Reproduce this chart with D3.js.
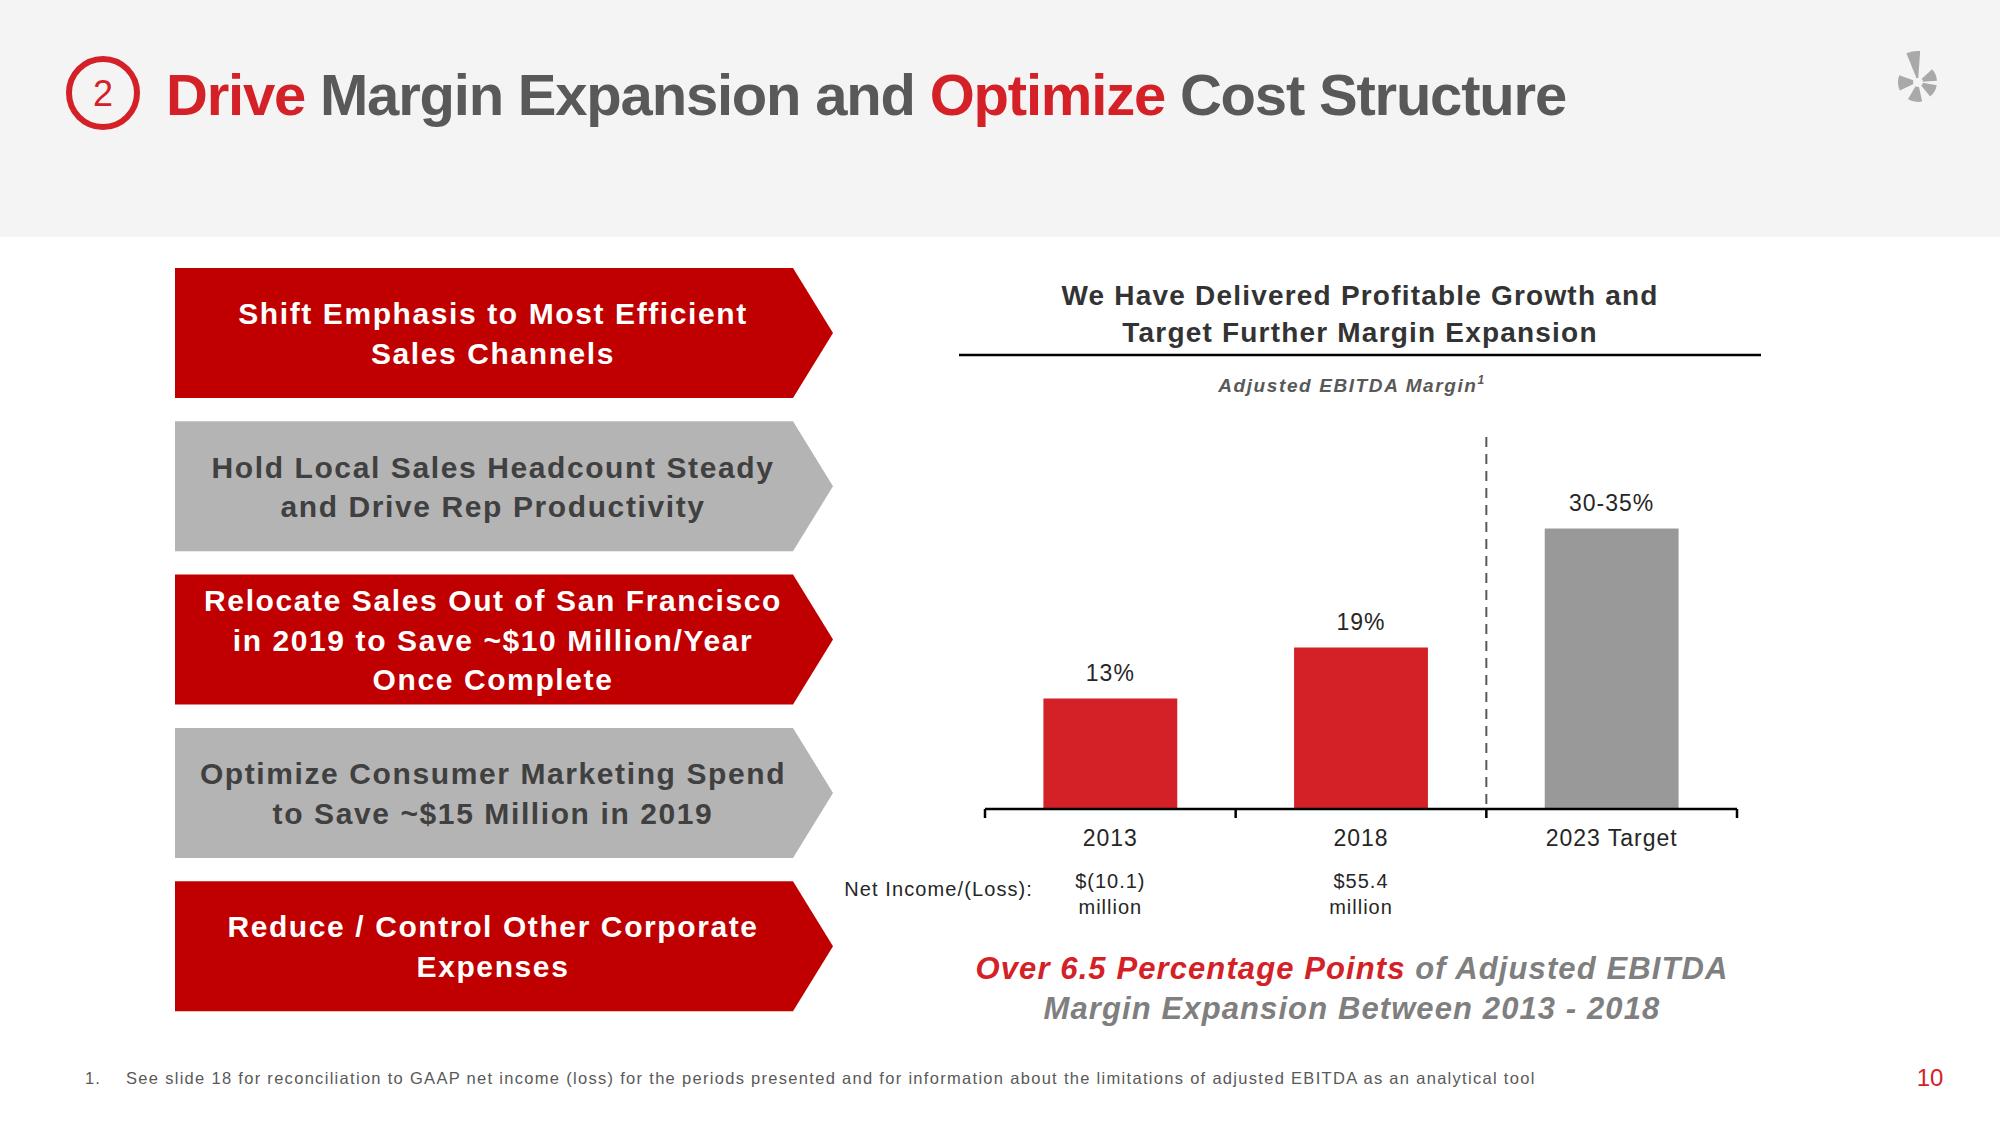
<!DOCTYPE html>
<html><head><meta charset="utf-8">
<script src="https://cdn.jsdelivr.net/npm/d3@7"></script>
<style>html,body{margin:0;padding:0;background:#fff;}svg{display:block;}</style>
</head><body>
<script>
// ---------- data ----------
const categories = ["2013", "2018", "2023 Target"];
const marginValues = [13, 19, 33];
const marginLabels = ["13%", "19%", "30-35%"];
const barKinds = ["actual", "actual", "target"];
const netIncomeLine1 = ["$(10.1)", "$55.4", ""];
const netIncomeLine2 = ["million", "million", ""];
const initiativeLines = [
  ["Shift Emphasis to Most Efficient", "Sales Channels"],
  ["Hold Local Sales Headcount Steady", "and Drive Rep Productivity"],
  ["Relocate Sales Out of San Francisco", "in 2019 to Save ~$10 Million/Year", "Once Complete"],
  ["Optimize Consumer Marketing Spend", "to Save ~$15 Million in 2019"],
  ["Reduce / Control Other Corporate", "Expenses"]
];
const initiativeKinds = ["red", "gray", "red", "gray", "red"];

// ---------- setup ----------
const W = 2000, H = 1125;
const RED = "#d42127", DARK = "#595959";
const svg = d3.select("body").append("svg").attr("width", W).attr("height", H)
  .style("font-family", "'Liberation Sans', Arial, sans-serif");
svg.append("rect").attr("width", W).attr("height", H).attr("fill", "#fff");
svg.append("rect").attr("width", W).attr("height", 237).attr("fill", "#f4f4f4");

// header circle + title
svg.append("circle").attr("cx", 103).attr("cy", 93).attr("r", 34)
  .attr("fill", "none").attr("stroke", RED).attr("stroke-width", 6);
svg.append("text").attr("x", 103).attr("y", 106).attr("text-anchor", "middle")
  .attr("font-size", 36).attr("fill", RED).text("2");
const title = svg.append("text").attr("x", 166).attr("y", 115)
  .attr("font-size", 58).attr("font-weight", "bold").attr("letter-spacing", "-1.2px");
[["Drive ", RED], ["Margin Expansion and ", DARK], ["Optimize ", RED], ["Cost Structure", DARK]]
  .forEach(([t, c]) => title.append("tspan").attr("fill", c).text(t));

// logo (starburst)
const logo = svg.append("g").attr("transform", "translate(1918,82)").attr("fill", "#a9a9a9");
const petal = d3.arc();
[[-22, 4, 4, 31], [48, 86, 5, 19], [100, 140, 5, 19], [168, 210, 5, 20], [245, 290, 5, 20]]
  .forEach(([a0, a1, r0, r1]) => logo.append("path").attr("d", petal({
    innerRadius: r0, outerRadius: r1, startAngle: a0 * Math.PI / 180, endAngle: a1 * Math.PI / 180,
    cornerRadius: 2 })));

// ---------- initiative arrows ----------
const boxX0 = 175, boxX1 = 793, boxTip = 833, boxH = 130, boxTop0 = 268, boxStep = 153.3;
const lineGap = 39.5;
initiativeLines.forEach((lines, i) => {
  const y0 = boxTop0 + i * boxStep, y1 = y0 + boxH, yc = (y0 + y1) / 2;
  const red = initiativeKinds[i] === "red";
  svg.append("path")
    .attr("d", `M${boxX0},${y0}L${boxX1},${y0}L${boxTip},${yc}L${boxX1},${y1}L${boxX0},${y1}Z`)
    .attr("fill", red ? "#c00000" : "#b4b4b4");
  const n = lines.length;
  lines.forEach((t, j) => {
    const cy = yc + (j - (n - 1) / 2) * lineGap;
    svg.append("text").attr("x", 493).attr("y", cy + 11).attr("text-anchor", "middle")
      .attr("font-size", 30).attr("font-weight", "bold").attr("letter-spacing", "1.6px")
      .attr("fill", red ? "#ffffff" : "#404040").text(t);
  });
});

// ---------- chart heading ----------
const hx = 1360;
svg.append("text").attr("x", hx).attr("y", 305).attr("text-anchor", "middle")
  .attr("font-size", 28).attr("font-weight", "bold").attr("letter-spacing", "1.2px").attr("fill", "#333")
  .text("We Have Delivered Profitable Growth and");
svg.append("text").attr("x", hx).attr("y", 342).attr("text-anchor", "middle")
  .attr("font-size", 28).attr("font-weight", "bold").attr("letter-spacing", "1.2px").attr("fill", "#333")
  .text("Target Further Margin Expansion");
svg.append("line").attr("x1", 959).attr("x2", 1761).attr("y1", 355).attr("y2", 355)
  .attr("stroke", "#000").attr("stroke-width", 2.5);
const sub = svg.append("text").attr("x", 1352).attr("y", 392).attr("text-anchor", "middle")
  .attr("font-size", 19).attr("font-weight", "bold").attr("font-style", "italic")
  .attr("letter-spacing", "1.6px").attr("fill", DARK);
sub.append("tspan").text("Adjusted EBITDA Margin");
sub.append("tspan").attr("font-size", 12).attr("dy", -8).text("1");

// ---------- bar chart ----------
const x = d3.scaleBand().domain(categories).range([985, 1737]).paddingInner(0.466).paddingOuter(0.233);
const y = d3.scaleLinear().domain([0, 40]).range([809, 469]);
const step = x.step();

svg.selectAll("rect.bar").data(categories).join("rect").attr("class", "bar")
  .attr("x", d => x(d)).attr("width", x.bandwidth())
  .attr("y", (d, i) => y(marginValues[i])).attr("height", (d, i) => y(0) - y(marginValues[i]))
  .attr("fill", (d, i) => barKinds[i] === "actual" ? "#d42127" : "#999999");

svg.selectAll("text.val").data(categories).join("text").attr("class", "val")
  .attr("x", d => x(d) + x.bandwidth() / 2).attr("y", (d, i) => y(marginValues[i]) - 18)
  .attr("text-anchor", "middle").attr("font-size", 23).attr("letter-spacing", "1px").attr("fill", "#262626")
  .text((d, i) => marginLabels[i]);

// dashed separator between actuals and target
const sepX = x(categories[2]) - step * 0.233;
svg.append("line").attr("x1", sepX).attr("x2", sepX).attr("y1", 437).attr("y2", 809)
  .attr("stroke", "#595959").attr("stroke-width", 2).attr("stroke-dasharray", "10,7");

// axis with boundary ticks
const axisG = svg.append("g").attr("transform", `translate(0,${y(0)})`);
axisG.append("line").attr("x1", 985).attr("x2", 1737).attr("stroke", "#000").attr("stroke-width", 2.5);
const bounds = d3.range(categories.length + 1).map(k => 985 + k * step);
axisG.selectAll("line.tk").data(bounds).join("line").attr("class", "tk")
  .attr("x1", d => d).attr("x2", d => d).attr("y1", 0).attr("y2", 9)
  .attr("stroke", "#000").attr("stroke-width", 2.5);
axisG.selectAll("text.cat").data(categories).join("text").attr("class", "cat")
  .attr("x", d => x(d) + x.bandwidth() / 2).attr("y", 37).attr("text-anchor", "middle")
  .attr("font-size", 23).attr("letter-spacing", "1px").attr("fill", "#262626").text(d => d);

// net income rows
svg.append("text").attr("x", 1033).attr("y", 896).attr("text-anchor", "end")
  .attr("font-size", 20).attr("letter-spacing", "1.1px").attr("fill", "#262626").text("Net Income/(Loss):");
svg.selectAll("text.ni1").data(categories).join("text").attr("class", "ni1")
  .attr("x", d => x(d) + x.bandwidth() / 2).attr("y", 888).attr("text-anchor", "middle")
  .attr("font-size", 20).attr("letter-spacing", "1px").attr("fill", "#262626")
  .text((d, i) => netIncomeLine1[i]);
svg.selectAll("text.ni2").data(categories).join("text").attr("class", "ni2")
  .attr("x", d => x(d) + x.bandwidth() / 2).attr("y", 914).attr("text-anchor", "middle")
  .attr("font-size", 20).attr("letter-spacing", "1px").attr("fill", "#262626")
  .text((d, i) => netIncomeLine2[i]);

// callout
const c1 = svg.append("text").attr("x", 1352).attr("y", 979).attr("text-anchor", "middle")
  .attr("font-size", 31).attr("font-weight", "bold").attr("font-style", "italic").attr("letter-spacing", "1.1px");
c1.append("tspan").attr("fill", RED).text("Over 6.5 Percentage Points ");
c1.append("tspan").attr("fill", "#7f7f7f").text("of Adjusted EBITDA");
svg.append("text").attr("x", 1352).attr("y", 1019).attr("text-anchor", "middle")
  .attr("font-size", 31).attr("font-weight", "bold").attr("font-style", "italic").attr("letter-spacing", "1.1px")
  .attr("fill", "#7f7f7f").text("Margin Expansion Between 2013 - 2018");

// footnote + page number
svg.append("text").attr("x", 85).attr("y", 1084).attr("font-size", 16.5).attr("fill", DARK)
  .attr("letter-spacing", "1px").text("1.");
svg.append("text").attr("x", 126).attr("y", 1084).attr("font-size", 16.5).attr("fill", DARK)
  .attr("letter-spacing", "1.3px")
  .text("See slide 18 for reconciliation to GAAP net income (loss) for the periods presented and for information about the limitations of adjusted EBITDA as an analytical tool");
svg.append("text").attr("x", 1930).attr("y", 1086).attr("text-anchor", "middle").attr("font-size", 24)
  .attr("fill", RED).text("10");
</script>
</body></html>
